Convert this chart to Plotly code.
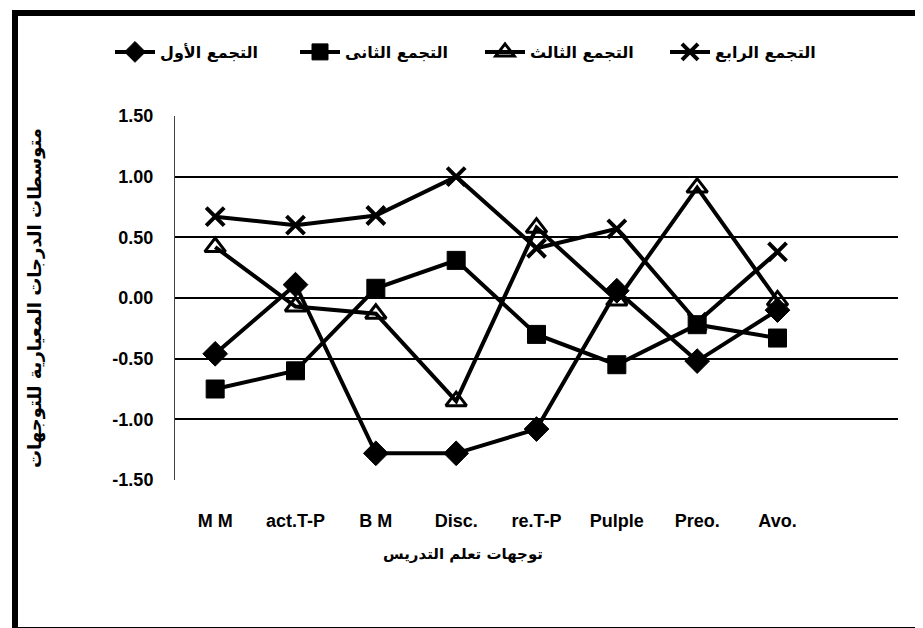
import plotly.graph_objects as go

categories = ["MM", "act.T-P", "BM", "Disc.", "re.T-P", "Pulple", "Preo.", "Avo."]
tick_labels = ["M M", "act.T-P", "B M", "Disc.", "re.T-P", "Pulple", "Preo.", "Avo."]
y_ticks = [1.5, 1.0, 0.5, 0.0, -0.5, -1.0, -1.5]
y_tick_labels = ["1.50", "1.00", "0.50", "0.00", "-0.50", "-1.00", "-1.50"]

series_names = ["التجمع الأول", "التجمع الثانى", "التجمع الثالث", "التجمع الرابع"]
cluster1 = [-0.46, 0.11, -1.28, -1.28, -1.08, 0.06, -0.52, -0.10]
cluster2 = [-0.75, -0.60, 0.08, 0.31, -0.30, -0.55, -0.22, -0.33]
cluster3 = [0.42, -0.07, -0.13, -0.85, 0.58, -0.02, 0.91, -0.02]
cluster4 = [0.67, 0.60, 0.68, 1.00, 0.41, 0.57, -0.20, 0.38]

x_title = "توجهات تعلم التدريس"
y_title = "متوسطات الدرجات المعيارية للتوجهات"

x_pos = list(range(len(categories)))

styles = [
    dict(symbol="diamond", size=19, color="black", line=dict(color="black", width=1)),
    dict(symbol="square", size=18, color="black", line=dict(color="black", width=1)),
    dict(symbol="triangle-up-open", size=18, color="black", line=dict(color="black", width=3)),
    dict(symbol="x-thin-open", size=18, color="black", line=dict(color="black", width=4)),
]

fig = go.Figure()
for name, vals, mk in zip(series_names, [cluster1, cluster2, cluster3, cluster4], styles):
    fig.add_trace(go.Scatter(
        x=x_pos, y=vals, name=name, mode="lines+markers",
        line=dict(color="black", width=4),
        marker=mk,
    ))

W, H = 923, 628
L, R, T, B = 167, 33, 108, 156
pw, ph = W - L - R, H - T - B

def px_x(p):
    return (p - L) / pw

def px_y(p):
    return (H - B - p) / ph

fig.add_shape(type="rect", xref="paper", yref="paper",
              x0=px_x(7), x1=px_x(916), y0=px_y(622), y1=px_y(5),
              line=dict(color="black", width=6), fillcolor="rgba(0,0,0,0)", layer="above")

arabic_font = "DejaVu Sans"

fig.add_annotation(xref="paper", yref="paper", x=px_x(455), y=px_y(546),
                   text=x_title, showarrow=False, xanchor="center", yanchor="middle",
                   font=dict(family=arabic_font, size=15, color="black", weight="bold"))
fig.add_annotation(xref="paper", yref="paper", x=px_x(27), y=px_y(290),
                   text=y_title, showarrow=False, xanchor="center", yanchor="middle",
                   textangle=-90,
                   font=dict(family=arabic_font, size=18, color="black", weight="bold"))

fig.update_layout(
    width=W, height=H,
    margin=dict(l=L, r=R, t=T, b=B),
    paper_bgcolor="white", plot_bgcolor="white",
    showlegend=True,
    legend=dict(orientation="h", x=px_x(102), xanchor="left", y=px_y(44), yanchor="middle",
                font=dict(family=arabic_font, size=16, color="black", weight="bold"),
                itemwidth=40, tracegroupgap=0, entrywidth=130),
    xaxis=dict(
        range=[-0.5, 8.5], tickmode="array", tickvals=x_pos, ticktext=tick_labels,
        showgrid=False, zeroline=False, showline=False, ticks="",
        ticklabelstandoff=28,
        tickfont=dict(family="Liberation Sans Narrow, Liberation Sans", size=18, color="black", weight="bold"),
    ),
    yaxis=dict(
        range=[-1.5, 1.5], tickmode="array", tickvals=y_ticks, ticktext=y_tick_labels,
        showgrid=True, gridcolor="black", gridwidth=1.5, zeroline=False,
        showline=True, linecolor="#444", linewidth=1, ticks="",
        ticklabelstandoff=17,
        tickfont=dict(family="Liberation Sans", size=18, color="black", weight="bold"),
    ),
)

fig.write_html("out.html")
